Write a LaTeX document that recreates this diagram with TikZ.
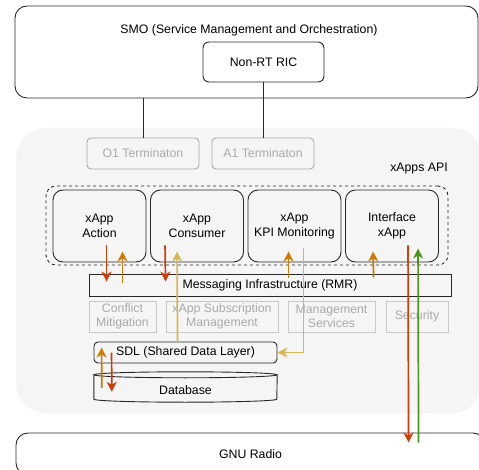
\documentclass[tikz,border=0pt]{standalone}
\usepackage{fontspec}
\setmainfont{Liberation Sans}
\definecolor{ricdark}{RGB}{40,40,40}
\definecolor{ricbg}{RGB}{245,245,245}
\definecolor{ricgray}{RGB}{170,170,170}
\definecolor{riclight}{RGB}{200,200,200}
\definecolor{ricred}{RGB}{205,62,10}
\definecolor{ricorange}{RGB}{204,122,0}
\definecolor{ricyellow}{RGB}{214,182,86}
\definecolor{ricgreen}{RGB}{77,150,30}
\usetikzlibrary{arrows.meta,positioning,calc}

\begin{document}
\begin{tikzpicture}[
  x=1pt, y=-1pt,
  txt/.style={font=\fontsize{12.3}{14.5}\selectfont, align=center, inner sep=0pt},
  blockbox/.style={
    txt, rectangle,
    draw=ricdark, line width=0.9pt,
    text=black
  },
  bigbox/.style={blockbox, rounded corners=12pt},
  xappbox/.style={blockbox, rounded corners=10pt, minimum width=93pt, minimum height=72pt},
  termbox/.style={
    txt, rectangle, rounded corners=4pt,
    draw=ricgray, line width=0.9pt, text=ricgray,
    minimum width=112pt, minimum height=31pt
  },
  svcbox/.style={
    txt, rectangle,
    draw=riclight, line width=0.9pt, text=ricgray,
    minimum height=31pt
  },
  panel/.style={rectangle, rounded corners=30pt, fill=ricbg, draw=none, inner sep=0pt},
  link/.style={draw=ricdark, line width=0.9pt},
  flow/.style={-{Stealth[length=10pt, width=10pt, inset=3pt]}, line width=1.7pt},
  redflow/.style={flow, draw=ricred},
  orangeflow/.style={flow, draw=ricorange},
  yellowflow/.style={flow, draw=ricyellow},
  greenflow/.style={flow, draw=ricgreen}
]
\useasboundingbox (0,0) rectangle (479,470);
\clip (0,0) rectangle (479,470);

\node[panel, minimum width=466pt, minimum height=285pt] (nearrt) at (249,270.5) {};

\node[bigbox, minimum width=463pt, minimum height=92pt] (smo) at (246.5,52) {};
\node[txt] (smotxt) at (249,30) {SMO (Service Management and Orchestration)};
\node[blockbox, rounded corners=6pt, minimum width=121pt, minimum height=40pt] (nonrt) at (263.5,62) {Non-RT RIC};

\node[termbox] (o1) at (143,153.5) {O1 Terminaton};
\node[termbox, minimum width=102pt] (a1) at (263,153.5) {A1 Terminaton};
\draw[link] (smo.south -| o1.north) -- (o1.north);
\draw[link] (nonrt.south) -- (nonrt.south |- a1.north);

\node[txt] (apitxt) at (419,169) {xApps API};
\node[rectangle, rounded corners=10pt, draw=ricdark, line width=0.9pt, dash pattern=on 3pt off 3pt,
  minimum width=402pt, minimum height=79pt] (api) at (247,225.5) {};

\node[xappbox] (xa1) at (99.5,226) {xApp\\Action};
\node[xappbox] (xa2) at (197,226) {xApp\\Consumer};
\node[xappbox] (xa3) at (294.5,226) {xApp\\KPI Monitoring};
\node[xappbox] (xa4) at (392,226) {Interface\\xApp};

\node[blockbox, minimum width=362pt, minimum height=22pt] (rmr) at (270,285) {Messaging Infrastructure (RMR)};

\node[svcbox, minimum width=67pt] (confl) at (122.5,316.5) {Conflict\\Mitigation};
\node[svcbox, minimum width=112pt] (subm) at (222,316.5) {xApp Subscription\\Management};
\node[svcbox, minimum width=87pt] (mgmt) at (331.5,316.5) {Management\\Services};
\node[svcbox, minimum width=62pt] (secu) at (417,316.5) {Security};

\node[blockbox, rounded corners=4pt, minimum width=183pt, minimum height=21pt] (sdl) at (185.5,352.5) {SDL (Shared Data Layer)};

\node[txt, minimum width=183pt, minimum height=24pt, text height=14pt, text depth=0pt] (db) at (185.5,387) {Database};
\draw[link] (db.north west) -- (db.south west) arc[start angle=180, end angle=360, x radius=91.5pt, y radius=3pt] -- (db.north east);
\draw[link] (db.north) ellipse[x radius=91.5pt, y radius=3pt];

\node[bigbox, fill=white, minimum width=469pt, minimum height=42pt] (gnu) at (250.5,454) {GNU Radio};

\draw[redflow] ([xshift=54pt, yshift=17pt]xa1.south west) -- ([xshift=18pt, yshift=-8pt]rmr.north west);
\draw[orangeflow] ([xshift=34pt, yshift=-9pt]rmr.north west) -- ([xshift=70pt, yshift=11pt]xa1.south west);
\draw[redflow] ([xshift=15pt, yshift=17pt]xa2.south west) -- ([xshift=77pt, yshift=-8pt]rmr.north west);
\draw[yellowflow] ([xshift=84pt]sdl.north west) -- ([xshift=27pt, yshift=11pt]xa2.south west);
\draw[orangeflow] ([xshift=200pt, yshift=-4pt]rmr.north west) -- ([xshift=41pt, yshift=11pt]xa3.south west);
\draw[yellowflow] ([xshift=56pt, yshift=14pt]xa3.south west) |- (sdl.east);
\draw[orangeflow] ([xshift=285pt, yshift=-4pt]rmr.north west) -- ([xshift=28pt, yshift=11pt]xa4.south west);
\draw[redflow] ([xshift=63pt, yshift=17pt]xa4.south west) -- ([xshift=393pt, yshift=-10pt]gnu.north west);
\draw[greenflow] ([xshift=403pt, yshift=-10pt]gnu.north west) -- ([xshift=73pt, yshift=14pt]xa4.south west);
\draw[orangeflow] ([xshift=8pt, yshift=-13pt]db.north west) -- ([xshift=8pt, yshift=-6pt]sdl.north west);
\draw[redflow] ([xshift=18pt, yshift=-11pt]sdl.north west) -- ([xshift=18pt, yshift=-17pt]db.north west);
\end{tikzpicture}
\end{document}
